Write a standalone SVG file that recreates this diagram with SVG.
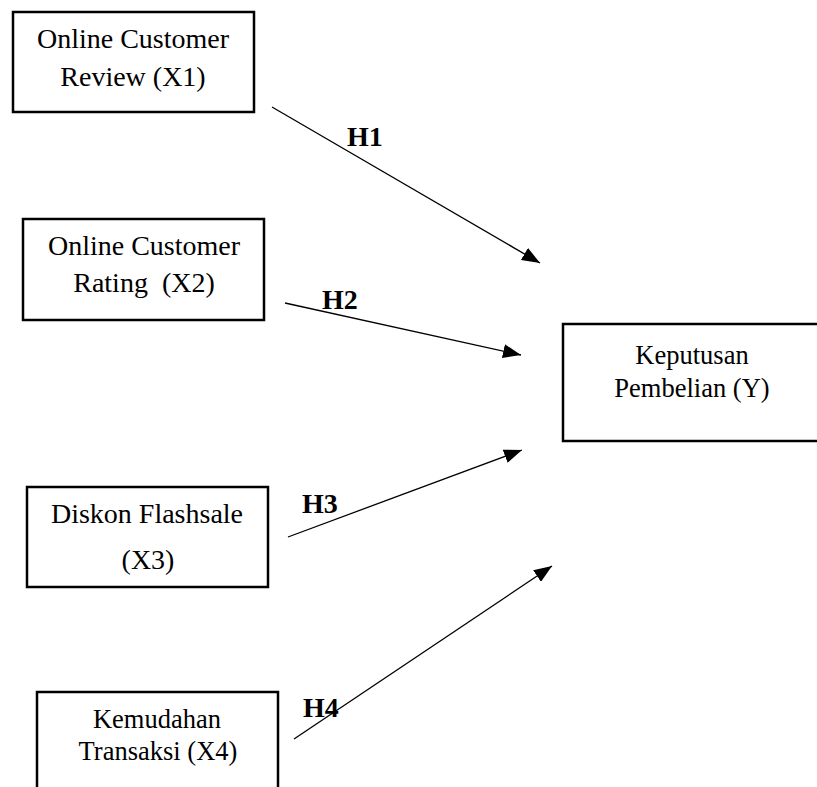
<svg xmlns="http://www.w3.org/2000/svg" width="817" height="787" viewBox="0 0 817 787">
<style>
.box{fill:#fff;stroke:#000;stroke-width:2.5}
.t{font-family:"Liberation Serif","DejaVu Serif",serif;font-size:28px;fill:#000;text-anchor:middle}
.tt{font-family:"Liberation Serif","DejaVu Serif",serif;font-size:26.5px;fill:#000;text-anchor:middle}
.h{font-family:"Liberation Serif","DejaVu Serif",serif;font-size:28px;font-weight:bold;fill:#000}
.c{stroke:#000;stroke-width:1.3;fill:none;marker-end:url(#ah)}
</style>
<defs>
<marker id="ah" viewBox="0 0 18 14" refX="18" refY="7" markerWidth="18" markerHeight="14" markerUnits="userSpaceOnUse" orient="auto">
<path d="M0,0 L18,7 L0,14 Z" fill="#000"/>
</marker>
</defs>
<rect width="817" height="787" fill="#fff"/>
<g id="x1">
<rect class="box" x="13" y="12" width="241" height="100"/>
<text class="t" x="133" y="48">Online Customer</text>
<text class="t" x="133" y="86">Review (X1)</text>
</g>
<g id="x2">
<rect class="box" x="23" y="219" width="241" height="101"/>
<text class="t" x="144" y="255">Online Customer</text>
<text class="t" x="144" y="292" xml:space="preserve">Rating  (X2)</text>
</g>
<g id="x3">
<rect class="box" x="27" y="487" width="241" height="100"/>
<text class="t" x="147" y="523">Diskon Flashsale</text>
<text class="t" x="148" y="569">(X3)</text>
</g>
<g id="x4">
<rect class="box" x="37" y="692" width="241" height="110"/>
<text class="tt" x="157" y="728">Kemudahan</text>
<text class="tt" x="158" y="760">Transaksi (X4)</text>
</g>
<g id="y">
<rect class="box" x="563" y="324" width="260" height="117"/>
<text class="tt" x="692" y="364">Keputusan</text>
<text class="tt" x="692" y="397">Pembelian (Y)</text>
</g>
<g id="connectors">
<line class="c" x1="272" y1="107" x2="540" y2="263"/>
<line class="c" x1="285" y1="303" x2="521" y2="355"/>
<line class="c" x1="288" y1="537" x2="522" y2="450"/>
<line class="c" x1="294" y1="739" x2="552" y2="566"/>
<text class="h" x="347" y="146">H1</text>
<text class="h" x="322" y="309">H2</text>
<text class="h" x="302" y="513">H3</text>
<text class="h" x="303" y="717">H4</text>
</g>
</svg>
